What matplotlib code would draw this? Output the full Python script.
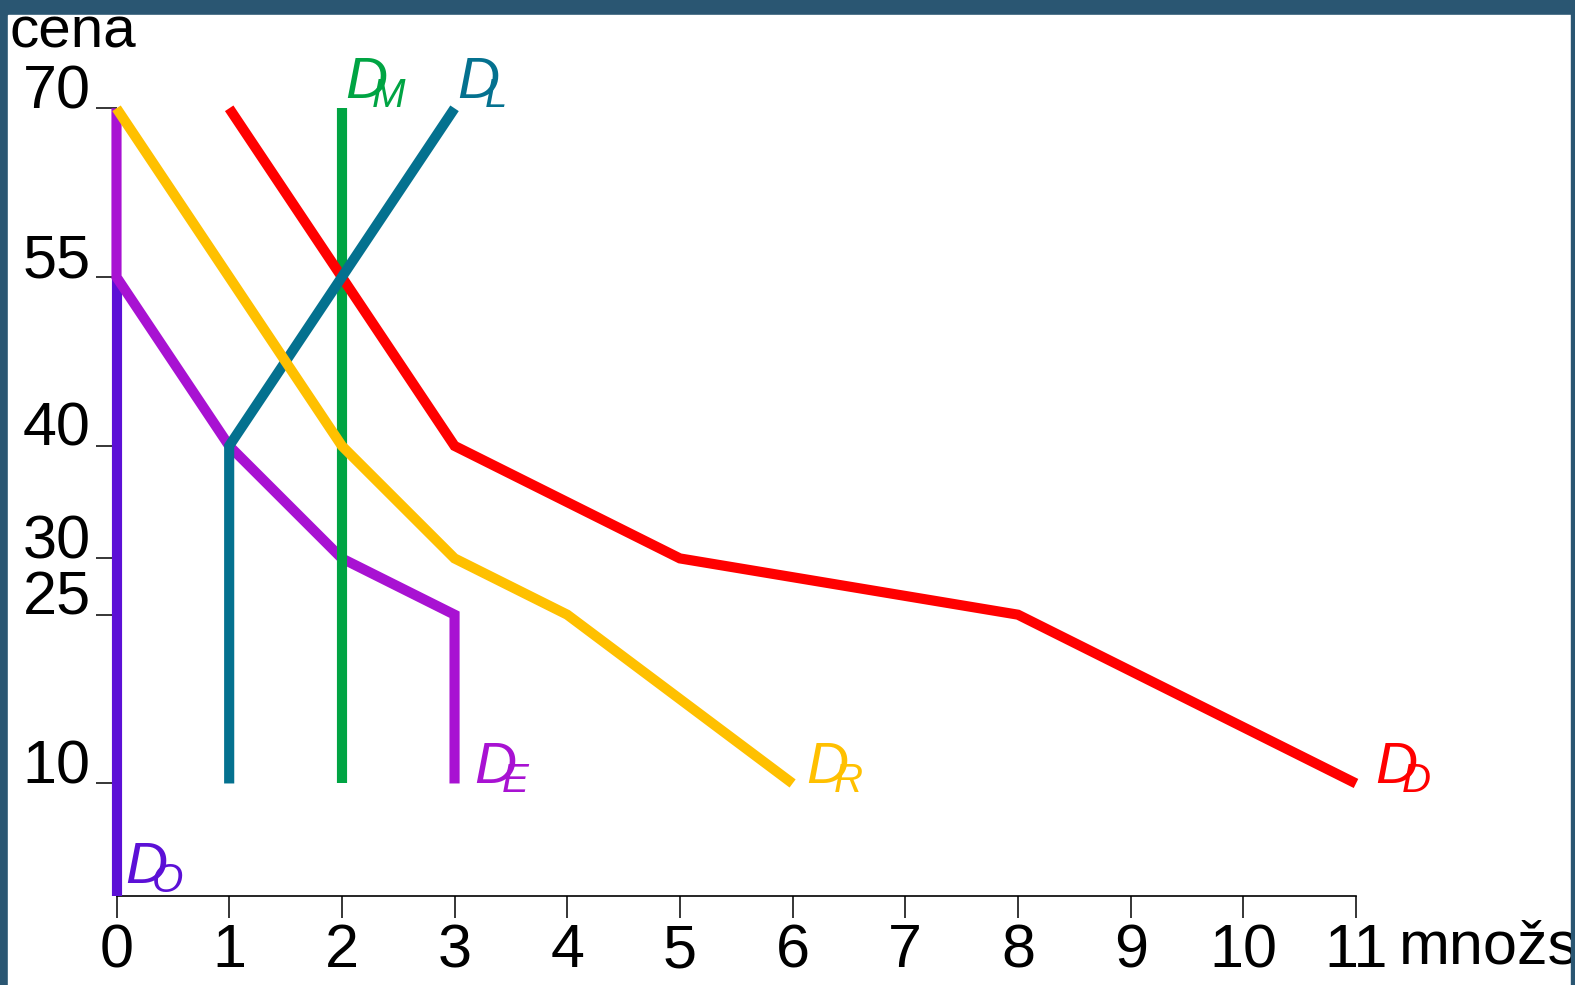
import matplotlib
matplotlib.use("Agg")
import matplotlib.pyplot as plt
from matplotlib.patches import Rectangle

plt.rcParams['font.family'] = ['Liberation Sans', 'DejaVu Sans']

# quantity / price points of each demand curve
dd_q = [1, 2, 3, 5, 8, 11]
dd_p = [70, 55, 40, 30, 25, 10]
dr_q = [0, 2, 3, 4, 6]
dr_p = [70, 40, 30, 25, 10]
dl_q = [1, 1, 2, 3]
dl_p = [10, 40, 55, 70]
dm_q = [2, 2]
dm_p = [10, 70]
de_q = [0, 0, 1, 2, 3, 3]
de_p = [70, 55, 40, 30, 25, 10]
do_q = [0, 0]
do_p = [0, 55]

price_ticks = [10, 25, 30, 40, 55, 70]
qty_ticks = list(range(12))

W, H = 1575, 985
band = '#2A5672'

fig = plt.figure(figsize=(W / 100, H / 100), dpi=100)
fig.patch.set_facecolor(band)
fig.patches.append(Rectangle((8 / W, 0), (1571 - 8) / W, (H - 15) / H,
                             transform=fig.transFigure, color='white', zorder=-5))
# slide frame drawn over the clipped axis title
fig.patches.append(Rectangle((1571 / W, 0), 4 / W, 1, transform=fig.transFigure,
                             color=band, zorder=20))

ax = fig.add_axes([116.5 / W, (H - 896) / H, (1356 - 116.5) / W, (896 - 108.3) / H])
ax.patch.set_alpha(0)
ax.set_xlim(0, 11)
ax.set_ylim(0, 70)

lw = 7.3
kw = dict(lw=lw, solid_capstyle='butt', solid_joinstyle='miter', clip_on=False)
ax.plot(do_q, do_p, color='#5C10D6', zorder=3, **kw)
ax.plot(de_q, de_p, color='#A812D2', zorder=4, **kw)
ax.plot(dm_q, dm_p, color='#00A443', zorder=5, **kw)
ax.plot(dd_q, dd_p, color='#FF0000', zorder=6, **kw)
ax.plot(dl_q, dl_p, color='#04718F', zorder=7, **kw)
ax.plot(dr_q, dr_p, color='#FFC000', zorder=8, **kw)


def curve_label(x, y, sub, color, dx, dy):
    ax.annotate('D', xy=(x, y), xytext=(dx, dy), textcoords='offset pixels',
                fontsize=42, style='italic', color=color, ha='left', va='baseline',
                annotation_clip=False)
    ax.annotate(sub, xy=(x, y), xytext=(dx + 27, dy - 8.5), textcoords='offset pixels',
                fontsize=29, style='italic', color=color, ha='left', va='baseline',
                annotation_clip=False)


curve_label(dm_q[-1], dm_p[-1], 'M', '#00A443', 3, 10)
curve_label(dl_q[-1], dl_p[-1], 'L', '#04718F', 3, 10)
curve_label(de_q[-1], de_p[-1], 'E', '#A812D2', 20, 0)
curve_label(dr_q[-1], dr_p[-1], 'R', '#FFC000', 14, 0)
curve_label(dd_q[-1], dd_p[-1], 'D', '#FF0000', 19, 0)
curve_label(do_q[0], do_p[0], 'O', '#5C10D6', 8.5, 13)

for s in ['left', 'top', 'right']:
    ax.spines[s].set_visible(False)
ax.spines['bottom'].set_linewidth(1.2)

ax.set_xticks(qty_ticks, labels=[str(q) for q in qty_ticks])
ax.set_yticks(price_ticks, labels=[str(p) for p in price_ticks])
for lbl in ax.get_yticklabels():
    lbl.set_verticalalignment('baseline')
ax.tick_params(axis='x', direction='out', length=16, width=1.1, pad=3.5, labelsize=44)
ax.tick_params(axis='y', direction='out', length=15, width=1.1, pad=3.5, labelsize=44)

ax.annotate('množstvo', xy=(11, 0), xytext=(43, -67), textcoords='offset pixels',
            fontsize=44, ha='left', va='baseline', annotation_clip=False)
fig.text(10 / W, (H - 47) / H, 'cena', fontsize=42, ha='left', va='baseline')

fig.savefig('out.png', dpi=100, facecolor=fig.get_facecolor())
